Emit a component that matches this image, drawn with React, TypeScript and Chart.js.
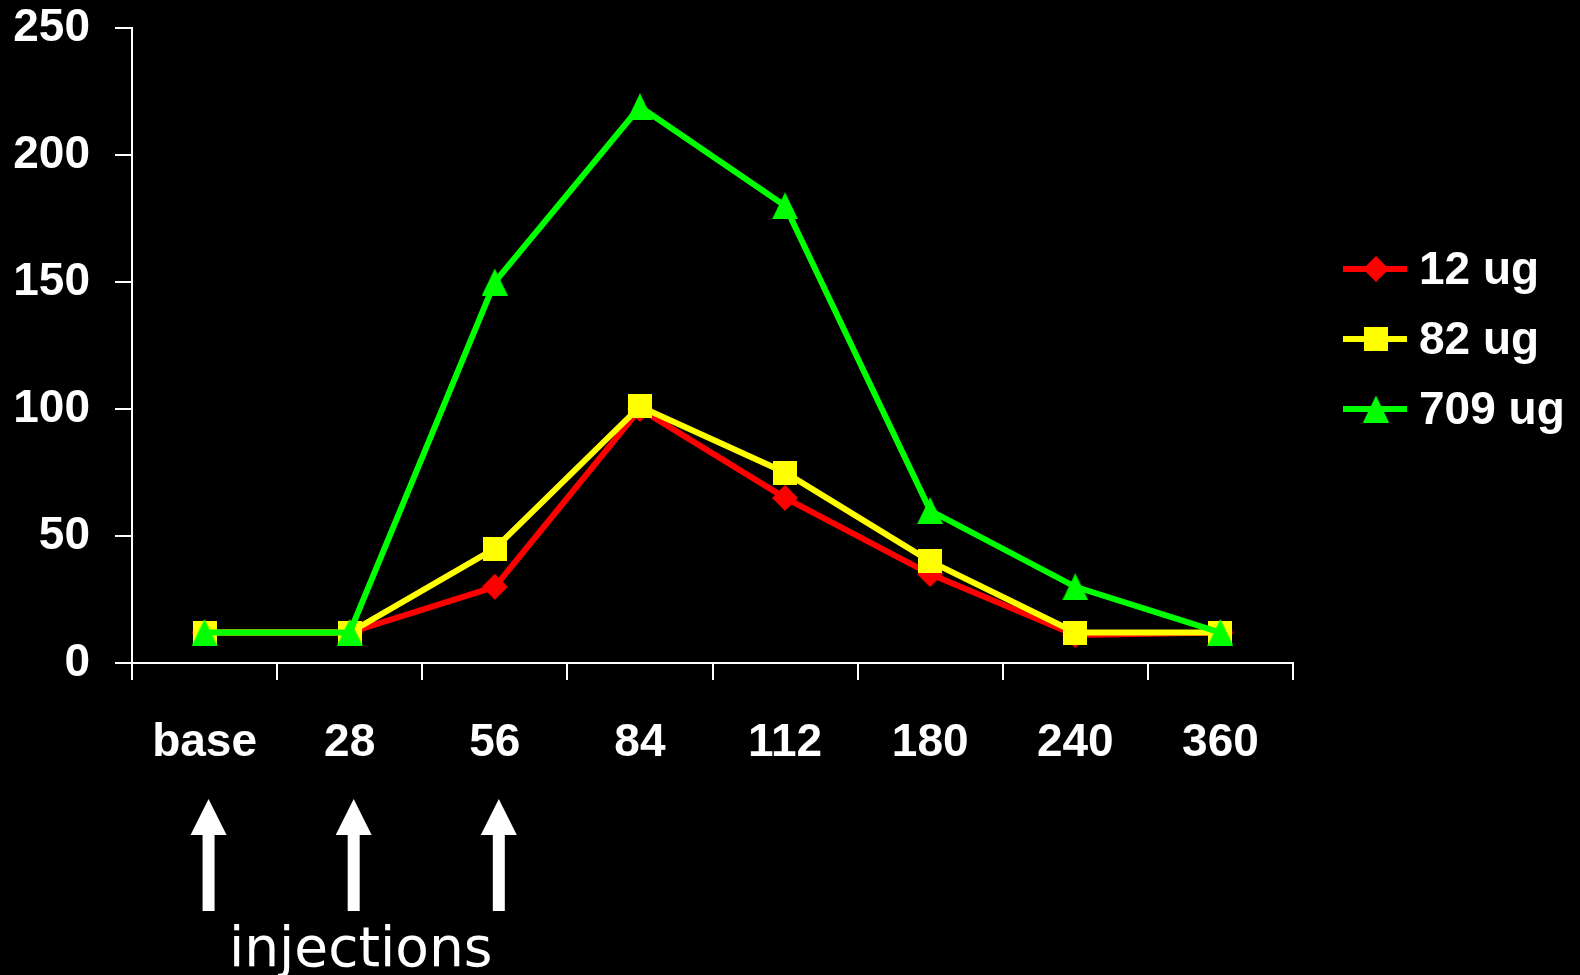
import React, { useEffect, useRef } from "react";
import { Chart, registerables } from "chart.js";

Chart.register(...registerables);

// Sampling days (x categories) and response per dose
const timepoints = ["base", "28", "56", "84", "112", "180", "240", "360"];
const dose12 = [12, 12, 30, 100, 65, 35, 11, 12];
const dose82 = [12, 12, 45, 101, 75, 40, 12, 12];
const dose709 = [12, 12, 150, 219, 180, 60, 30, 12];
const seriesLabels = ["12 ug", "82 ug", "709 ug"];
const yTicks = [0, 50, 100, 150, 200, 250];
// Days on which an injection was given
const injectionDays = ["base", "28", "56"];
const injectionLabel = "injections";

const RED = "#ff0000";
const YELLOW = "#ffff00";
const GREEN = "#00ff00";
const FONT = "'Liberation Sans', Arial, sans-serif";

function makeMarker(kind: "diamond" | "square" | "triangle", color: string): HTMLCanvasElement {
  const c = document.createElement("canvas");
  const w = kind === "square" ? 24 : 26;
  const h = kind === "square" ? 24 : kind === "diamond" ? 26 : 27;
  c.width = w;
  c.height = h;
  const ctx = c.getContext("2d")!;
  ctx.fillStyle = color;
  ctx.beginPath();
  if (kind === "square") {
    ctx.rect(0, 0, w, h);
  } else if (kind === "diamond") {
    ctx.moveTo(w / 2, 0);
    ctx.lineTo(w, h / 2);
    ctx.lineTo(w / 2, h);
    ctx.lineTo(0, h / 2);
  } else {
    ctx.moveTo(w / 2, 0);
    ctx.lineTo(w, h);
    ctx.lineTo(0, h);
  }
  ctx.closePath();
  ctx.fill();
  return c;
}

export default function App() {
  const canvasRef = useRef<HTMLCanvasElement | null>(null);

  useEffect(() => {
    const canvas = canvasRef.current;
    if (!canvas) return;

    const markers = [
      makeMarker("diamond", RED),
      makeMarker("square", YELLOW),
      makeMarker("triangle", GREEN),
    ];
    const colors = [RED, YELLOW, GREEN];

    // Legend at the right: line segment with marker, then label
    const sideLegend = {
      id: "sideLegend",
      afterDraw(chart: any) {
        const ctx = chart.ctx;
        const rows = [269, 339, 409];
        ctx.save();
        seriesLabels.forEach((label, i) => {
          const y = rows[i];
          ctx.strokeStyle = colors[i];
          ctx.lineWidth = 6;
          ctx.beginPath();
          ctx.moveTo(1343, y);
          ctx.lineTo(1407, y);
          ctx.stroke();
          const m = markers[i];
          ctx.drawImage(m, 1376 - m.width / 2, y - m.height / 2);
          ctx.fillStyle = "#ffffff";
          ctx.font = `bold 46px ${FONT}`;
          ctx.textAlign = "left";
          ctx.textBaseline = "middle";
          ctx.fillText(label, 1419, y + 2);
        });
        ctx.restore();
      },
    };

    // Upward arrows under the injection days, with caption
    const injectionArrows = {
      id: "injectionArrows",
      afterDraw(chart: any) {
        const ctx = chart.ctx;
        const xs = chart.scales.x;
        const centers = injectionDays.map((d) => xs.getPixelForValue(timepoints.indexOf(d)) + 4);
        ctx.save();
        ctx.fillStyle = "#ffffff";
        centers.forEach((x: number) => {
          ctx.fillRect(x - 6, 833, 12, 78);
          ctx.beginPath();
          ctx.moveTo(x, 799);
          ctx.lineTo(x + 18, 835);
          ctx.lineTo(x - 18, 835);
          ctx.closePath();
          ctx.fill();
        });
        ctx.font = `55px 'DejaVu Sans', sans-serif`;
        ctx.textAlign = "center";
        ctx.textBaseline = "alphabetic";
        const mid = (centers[0] + centers[centers.length - 1]) / 2 + 7;
        ctx.fillText(injectionLabel, mid, 966);
        ctx.restore();
      },
    };

    const chart = new Chart(canvas, {
      type: "line",
      data: {
        labels: timepoints,
        datasets: [
          {
            label: seriesLabels[0],
            data: dose12,
            borderColor: RED,
            backgroundColor: RED,
            borderWidth: 6,
            pointStyle: markers[0] as any,
            order: 2,
          },
          {
            label: seriesLabels[1],
            data: dose82,
            borderColor: YELLOW,
            backgroundColor: YELLOW,
            borderWidth: 6,
            pointStyle: markers[1] as any,
            order: 1,
          },
          {
            label: seriesLabels[2],
            data: dose709,
            borderColor: GREEN,
            backgroundColor: GREEN,
            borderWidth: 6,
            pointStyle: markers[2] as any,
            order: 0,
          },
        ],
      },
      options: {
        animation: false,
        responsive: true,
        maintainAspectRatio: false,
        events: [],
        layout: { padding: { top: 28, right: 287, left: 0, bottom: 0 } },
        plugins: {
          legend: { display: false },
          tooltip: { enabled: false },
        },
        elements: { line: { tension: 0 } },
        scales: {
          x: {
            offset: true,
            grid: {
              offset: true,
              drawOnChartArea: false,
              drawTicks: true,
              tickLength: 17,
              color: "#ffffff",
              lineWidth: 2,
            },
            border: { display: true, color: "#ffffff", width: 2 },
            ticks: {
              color: "#ffffff",
              font: { family: FONT, size: 46, weight: "bold" },
              padding: 36,
              autoSkip: false,
              maxRotation: 0,
            },
            afterFit(scale: any) {
              scale.height = 975 - 663;
              scale.paddingLeft = 0;
              scale.paddingRight = 0;
            },
          },
          y: {
            min: yTicks[0],
            max: yTicks[yTicks.length - 1],
            afterBuildTicks(scale: any) {
              scale.ticks = yTicks.map((v) => ({ value: v }));
            },
            grid: {
              drawOnChartArea: false,
              drawTicks: true,
              tickLength: 17,
              color: "#ffffff",
              lineWidth: 2,
            },
            border: { display: true, color: "#ffffff", width: 2 },
            ticks: {
              color: "#ffffff",
              font: { family: FONT, size: 46, weight: "bold" },
              padding: 25,
            },
            afterFit(scale: any) {
              scale.width = 132;
              scale.paddingTop = 0;
              scale.paddingBottom = 0;
            },
          },
        },
      },
      plugins: [sideLegend, injectionArrows],
    });

    return () => chart.destroy();
  }, []);

  return (
    <div
      style={{
        position: "fixed",
        left: 0,
        top: 0,
        width: 1580,
        height: 975,
        background: "#000000",
      }}
    >
      <canvas ref={canvasRef} />
    </div>
  );
}
